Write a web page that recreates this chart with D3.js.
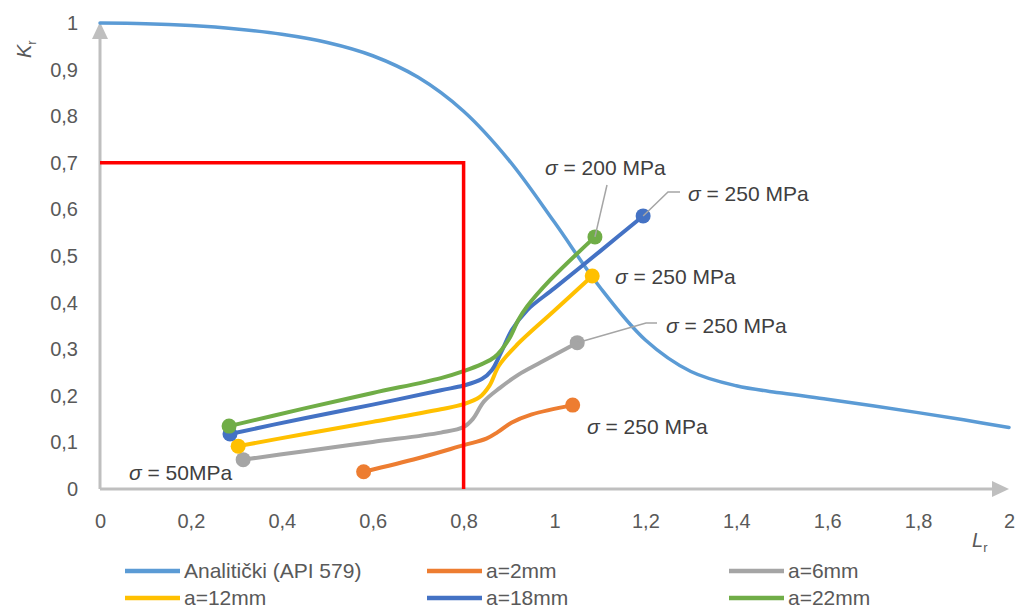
<!DOCTYPE html>
<html><head><meta charset="utf-8">
<script src="https://cdn.jsdelivr.net/npm/d3@7"></script>
<style>
html,body{margin:0;padding:0;background:#fff;}
svg{display:block;font-family:"Liberation Sans",Arial,sans-serif;}
</style></head>
<body>
<svg id="chart" width="1016" height="608"></svg>
<script>
// ---- data ----
const xTicks = [0,0.2,0.4,0.6,0.8,1,1.2,1.4,1.6,1.8,2];
const yTicks = [0,0.1,0.2,0.3,0.4,0.5,0.6,0.7,0.8,0.9,1];

const analyticLr = [0,0.1,0.2,0.3,0.4,0.5,0.6,0.7,0.8,0.9,1.0,1.1,1.2,1.3,1.4,1.5,1.6,1.7,1.8,1.9,2.0];
const analyticKr = [1,0.9986,0.9944,0.9871,0.9758,0.9582,0.9297,0.8834,0.8106,0.7053,0.5723,0.4330,0.3198,0.2522,0.2215,0.2058,0.1925,0.1786,0.1639,0.1484,0.132];

const a2Lr  = [0.58,0.70,0.80,0.85,0.875,0.905,0.95,1.04];
const a2Kr  = [0.037,0.066,0.094,0.108,0.122,0.142,0.160,0.180];
const a6Lr  = [0.315,0.45,0.60,0.75,0.80,0.82,0.845,0.88,0.92,0.97,1.05];
const a6Kr  = [0.063,0.081,0.101,0.121,0.133,0.150,0.188,0.217,0.245,0.272,0.314];
const a12Lr = [0.304,0.45,0.60,0.75,0.80,0.835,0.857,0.878,0.917,1.0,1.083];
const a12Kr = [0.092,0.118,0.144,0.171,0.182,0.197,0.222,0.265,0.309,0.383,0.457];
const a18Lr = [0.286,0.45,0.60,0.75,0.80,0.84,0.862,0.882,0.906,0.94,1.0,1.1,1.195];
const a18Kr = [0.118,0.152,0.181,0.212,0.222,0.236,0.255,0.292,0.341,0.384,0.431,0.510,0.586];
const a22Lr = [0.284,0.45,0.60,0.75,0.80,0.84,0.868,0.90,0.92,0.94,0.99,1.089];
const a22Kr = [0.135,0.173,0.206,0.238,0.253,0.268,0.283,0.322,0.362,0.392,0.448,0.541];

const limitLr = [0,0.8,0.8];
const limitKr = [0.7,0.7,0];

const seriesNames = ["Analitički (API 579)","a=2mm","a=6mm","a=12mm","a=18mm","a=22mm"];
const seriesColors = ["#5B9BD5","#ED7D31","#A5A5A5","#FFC000","#4472C4","#70AD47"];

const annoText = ["50MPa","250 MPa","250 MPa","250 MPa","250 MPa","200 MPa"];

// ---- chart ----
const svg = d3.select("#chart");
const x = d3.scaleLinear().domain([0,2]).range([100,1009]);
const y = d3.scaleLinear().domain([0,1]).range([489,23]);
const fmt = v => String(+v.toFixed(1)).replace(".", ",");
const axisCol = "#BFBFBF", tickCol = "#595959", textCol = "#404040";

// axis labels via d3 axes (domain/ticks hidden)
const gx = svg.append("g").attr("transform","translate(0,489)")
  .call(d3.axisBottom(x).tickValues(xTicks).tickFormat(fmt).tickSize(0).tickPadding(28));
const gy = svg.append("g").attr("transform","translate(100,0)")
  .call(d3.axisLeft(y).tickValues(yTicks).tickFormat(fmt).tickSize(0).tickPadding(22));
[gx,gy].forEach(g=>{
  g.select(".domain").remove();
  g.selectAll("text").attr("fill",tickCol).style("font-size","20px").style("font-family","'Liberation Sans',Arial,sans-serif");
});
gx.selectAll("text").attr("dy","0.32em").attr("y",33);

// axis lines with arrows
svg.append("line").attr("x1",x(0)).attr("y1",y(0)).attr("x2",x(0)).attr("y2",36)
  .attr("stroke",axisCol).attr("stroke-width",3);
svg.append("path").attr("d",`M${x(0)},22 L${x(0)-8},39 L${x(0)+8},39 Z`).attr("fill",axisCol);
svg.append("line").attr("x1",x(0)).attr("y1",y(0)).attr("x2",995).attr("y2",y(0))
  .attr("stroke",axisCol).attr("stroke-width",3);
svg.append("path").attr("d",`M1009,${y(0)} L992,${y(0)-8} L992,${y(0)+8} Z`).attr("fill",axisCol);

// axis titles
const ky = svg.append("text").attr("transform","translate(31,58) rotate(-90)")
  .attr("fill",tickCol).style("font-size","20px");
ky.append("tspan").attr("font-style","italic").text("K");
ky.append("tspan").attr("dy",5).style("font-size","13px").text("r");
const lx = svg.append("text").attr("x",972).attr("y",547).attr("fill",tickCol).style("font-size","20px");
lx.append("tspan").attr("font-style","italic").text("L");
lx.append("tspan").attr("dy",5).style("font-size","13px").text("r");

// series
const zip = (a,b)=>a.map((v,i)=>[v,b[i]]);
const allSeries = [
  zip(analyticLr,analyticKr), zip(a2Lr,a2Kr), zip(a6Lr,a6Kr),
  zip(a12Lr,a12Kr), zip(a18Lr,a18Kr), zip(a22Lr,a22Kr)
];
const line = d3.line().x(d=>x(d[0])).y(d=>y(d[1])).curve(d3.curveCatmullRom.alpha(0.5));
allSeries.forEach((s,i)=>{
  svg.append("path").attr("d",line(s)).attr("fill","none")
    .attr("stroke",seriesColors[i]).attr("stroke-width",i===0?3.5:4)
    .attr("stroke-linejoin","round").attr("stroke-linecap","round");
  if(i>0){
    [s[0], s[s.length-1]].forEach(p=>{
      svg.append("circle").attr("cx",x(p[0])).attr("cy",y(p[1])).attr("r",7.5)
        .attr("fill",seriesColors[i]);
    });
  }
});

// red limit lines
svg.append("path").attr("d",d3.line().x(d=>x(d[0])).y(d=>y(d[1]))(zip(limitLr,limitKr)))
  .attr("fill","none").attr("stroke","#FF0000").attr("stroke-width",3.5);

// annotations
const annos = [
  {series:2, end:"start", tx:129, ty:480, text:annoText[0], leader:null},
  {series:1, end:"end", tx:587, ty:434, text:annoText[1], leader:null},
  {series:2, end:"end", tx:666, ty:333, text:annoText[2], leader:[[646,323],[657,323]]},
  {series:3, end:"end", tx:615, ty:284, text:annoText[3], leader:null},
  {series:4, end:"end", tx:688, ty:201, text:annoText[4], leader:[[668,192],[680,192]]},
  {series:5, end:"end", tx:545, ty:175, text:annoText[5], leader:[[607,185]]}
];
annos.forEach(a=>{
  const s = allSeries[a.series];
  const p = a.end==="start" ? s[0] : s[s.length-1];
  if(a.leader){
    const pts = [[x(p[0]),y(p[1])]].concat(a.leader);
    svg.append("path").attr("d",d3.line()(pts)).attr("fill","none")
      .attr("stroke","#A5A5A5").attr("stroke-width",1.5);
  }
  const t = svg.append("text").attr("x",a.tx).attr("y",a.ty).attr("fill",textCol).style("font-size","21px");
  t.append("tspan").attr("font-style","italic").text("σ");
  t.append("tspan").text(" = " + a.text);
});

// legend
const legX = [125,427,729];
const legY = [571,598];
seriesNames.forEach((n,i)=>{
  const cx = legX[i%3], cy = legY[Math.floor(i/3)];
  svg.append("line").attr("x1",cx).attr("x2",cx+55).attr("y1",cy).attr("y2",cy)
    .attr("stroke",seriesColors[i]).attr("stroke-width",4.5);
  svg.append("text").attr("x",cx+59).attr("y",cy).attr("dy","0.35em")
    .attr("fill",tickCol).style("font-size","21px").text(n);
});
</script>
</body></html>
